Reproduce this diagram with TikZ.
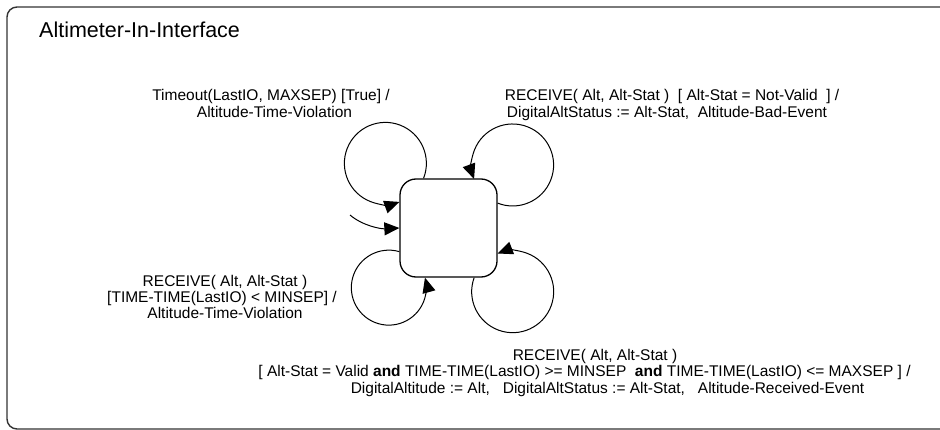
\documentclass[tikz,border=0pt]{standalone}
\usepackage{fontspec}
\setmainfont{Liberation Sans}
\usetikzlibrary{arrows.meta,calc}
\begin{document}
\begin{tikzpicture}[x=1pt,y=-1pt,
  lbl/.style={font=\fontsize{15.5}{18}\selectfont, inner sep=0pt, anchor=base},
  ttl/.style={font=\fontsize{21.5}{25}\selectfont, inner sep=0pt, anchor=base west},
  statebox/.style={draw, line width=1.3pt, rounded corners=16pt, minimum width=97pt,
    minimum height=98pt, inner sep=0pt},
  trans/.style={line width=1pt, -{Triangle[length=15pt,width=13pt]}},
  frame/.style={draw=black!80, line width=1.4pt, rounded corners=10pt}]
\useasboundingbox (0,0) rectangle (940,430);
\clip (0,0) rectangle (940,430);

% enclosing frame (runs off the right edge)
\draw[frame] (7,7) rectangle (975,429);
\node[ttl] (title) at (39,37.7) {Altimeter-In-Interface};

% the single state
\node[statebox] (st) at (448.5,228) {};

% initial transition
\coordinate (init) at (350,215);
\draw[trans] (init) .. controls (363,226) and (381,229) .. (st.west);

% self transitions
\draw[trans] ($(st.north west)+(24.2,0)$) arc[start angle=21.4, end angle=-290, radius=41];
\draw[trans] ($(st.north east)+(0,24.8)$) arc[start angle=111.4, end angle=-200, radius=41];
\draw[trans] ($(st.south east)+(-23.5,0)$) arc[start angle=200, end angle=-111.4, radius=41];
\draw[trans] ($(st.south west)+(0,-26)$) arc[start angle=-73.7, end angle=-375.5, radius=37.5];

% transition labels
\node[lbl] (tl1) at (271,100.7) {Timeout(LastIO, MAXSEP) [True] /};
\node[lbl] (tl2) at (274.5,117.3) {Altitude-Time-Violation};

\node[lbl] (tr1) at (672,101) {RECEIVE( Alt, Alt-Stat )~~[ Alt-Stat = Not-Valid~~] /};
\node[lbl] (tr2) at (667,117.3) {DigitalAltStatus := Alt-Stat,~~Altitude-Bad-Event};

\node[lbl] (bl1) at (225,286.7) {RECEIVE( Alt, Alt-Stat )};
\node[lbl] (bl2) at (222,303) {[TIME-TIME(LastIO) < MINSEP] /};
\node[lbl] (bl3) at (225,319) {Altitude-Time-Violation};

\node[lbl] (b1) at (595,361) {RECEIVE( Alt, Alt-Stat )};
\node[lbl] (b2) at (584.5,377) {[ Alt-Stat = Valid \textbf{and} TIME-TIME(LastIO) >= MINSEP~~\textbf{and} TIME-TIME(LastIO) <= MAXSEP ] /};
\node[lbl] (b3) at (607.5,393) {DigitalAltitude := Alt,~~~DigitalAltStatus := Alt-Stat,~~~Altitude-Received-Event};
\end{tikzpicture}
\end{document}
